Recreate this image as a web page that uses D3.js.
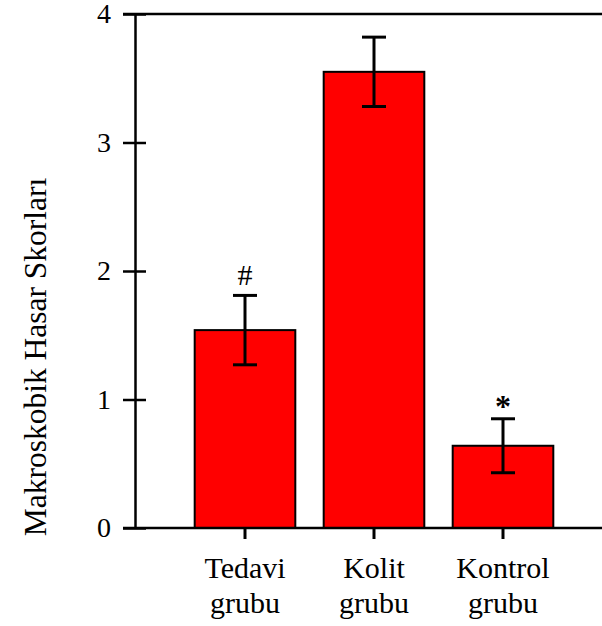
<!DOCTYPE html>
<html><head><meta charset="utf-8">
<script src="https://cdn.jsdelivr.net/npm/d3@7/dist/d3.min.js"></script>
<style>body{margin:0;background:#fff}svg{display:block}</style>
</head><body>
<svg id="c" width="602" height="626"></svg>
<script>
const categories = [["Tedavi","grubu"],["Kolit","grubu"],["Kontrol","grubu"]];
const values = [1.54, 3.55, 0.64];
const errors = [0.27, 0.27, 0.21];
const marks = ["#", "", "*"];
const yTicks = [0, 1, 2, 3, 4];
const yTitle = "Makroskobik Hasar Skorları";

const svg = d3.select("#c");
const font = "'Liberation Serif','Times New Roman',serif";
const y = d3.scaleLinear().domain([0, 4]).range([528, 14]);
const x = d3.scaleBand().domain(d3.range(categories.length)).range([180.5, 567.5]).paddingInner(0.22).paddingOuter(0.11);
const axisX = 135;

// frame line at top
svg.append("line").attr("x1", 123).attr("x2", 602).attr("y1", y(4)).attr("y2", y(4)).attr("stroke","#000").attr("stroke-width",2.5);

// bars
svg.selectAll("rect.bar").data(values).enter().append("rect")
  .attr("x", (d,i)=>x(i)).attr("width", x.bandwidth())
  .attr("y", d=>y(d)).attr("height", d=>y(0)-y(d))
  .attr("fill","#ff0000").attr("stroke","#000").attr("stroke-width",2);

// error bars
const eg = svg.selectAll("g.err").data(values).enter().append("g")
  .attr("transform",(d,i)=>`translate(${x(i)+x.bandwidth()/2},0)`);
eg.append("line").attr("x1",0).attr("x2",0).attr("y1",(d,i)=>y(d+errors[i])).attr("y2",(d,i)=>y(d-errors[i])).attr("stroke","#000").attr("stroke-width",3);
eg.append("line").attr("x1",-12).attr("x2",12).attr("y1",(d,i)=>y(d+errors[i])).attr("y2",(d,i)=>y(d+errors[i])).attr("stroke","#000").attr("stroke-width",3);
eg.append("line").attr("x1",-12).attr("x2",12).attr("y1",(d,i)=>y(d-errors[i])).attr("y2",(d,i)=>y(d-errors[i])).attr("stroke","#000").attr("stroke-width",3);
eg.append("text").text((d,i)=>marks[i])
  .attr("x",0).attr("y",(d,i)=> marks[i]==="*" ? y(d+errors[i])-2 : y(d+errors[i])-10)
  .attr("text-anchor","middle").attr("font-family",font)
  .attr("font-size",(d,i)=> marks[i]==="*" ? 32 : 30)
  .attr("font-weight",(d,i)=> marks[i]==="*" ? "bold" : "normal");

// y axis
const yAxis = svg.append("g").attr("transform",`translate(${axisX},0)`)
  .call(d3.axisLeft(y).tickValues(yTicks).tickFormat(d3.format("d")).tickSizeOuter(0).tickSizeInner(12).tickPadding(12));
yAxis.select(".domain").attr("stroke-width",2.5);
yAxis.selectAll(".tick line").attr("x1",11).attr("x2",-12).attr("stroke-width",2.5);
yAxis.selectAll(".tick text").attr("font-family",font).attr("font-size",28).attr("fill","#000");

// x axis
const xAxis = svg.append("g").attr("transform",`translate(0,${y(0)})`)
  .call(d3.axisBottom(x).tickSizeOuter(0).tickSizeInner(11).tickFormat(""));
xAxis.select(".domain").remove();
xAxis.selectAll(".tick line").attr("stroke-width",3);
svg.append("line").attr("x1",123).attr("x2",602).attr("y1",y(0)).attr("y2",y(0)).attr("stroke","#000").attr("stroke-width",2.5);

xAxis.selectAll(".tick").each(function(d){
  const t = d3.select(this).append("text").attr("font-family",font).attr("font-size",30).attr("fill","#000").attr("text-anchor","middle");
  categories[d].forEach((s,k)=> t.append("tspan").attr("x",0).attr("y",50+k*35).text(s));
});

// y title
svg.append("text").text(yTitle)
  .attr("transform","translate(46,357) rotate(-90)")
  .attr("text-anchor","middle").attr("font-family",font).attr("font-size",31.5).attr("fill","#000");
</script>
</body></html>
